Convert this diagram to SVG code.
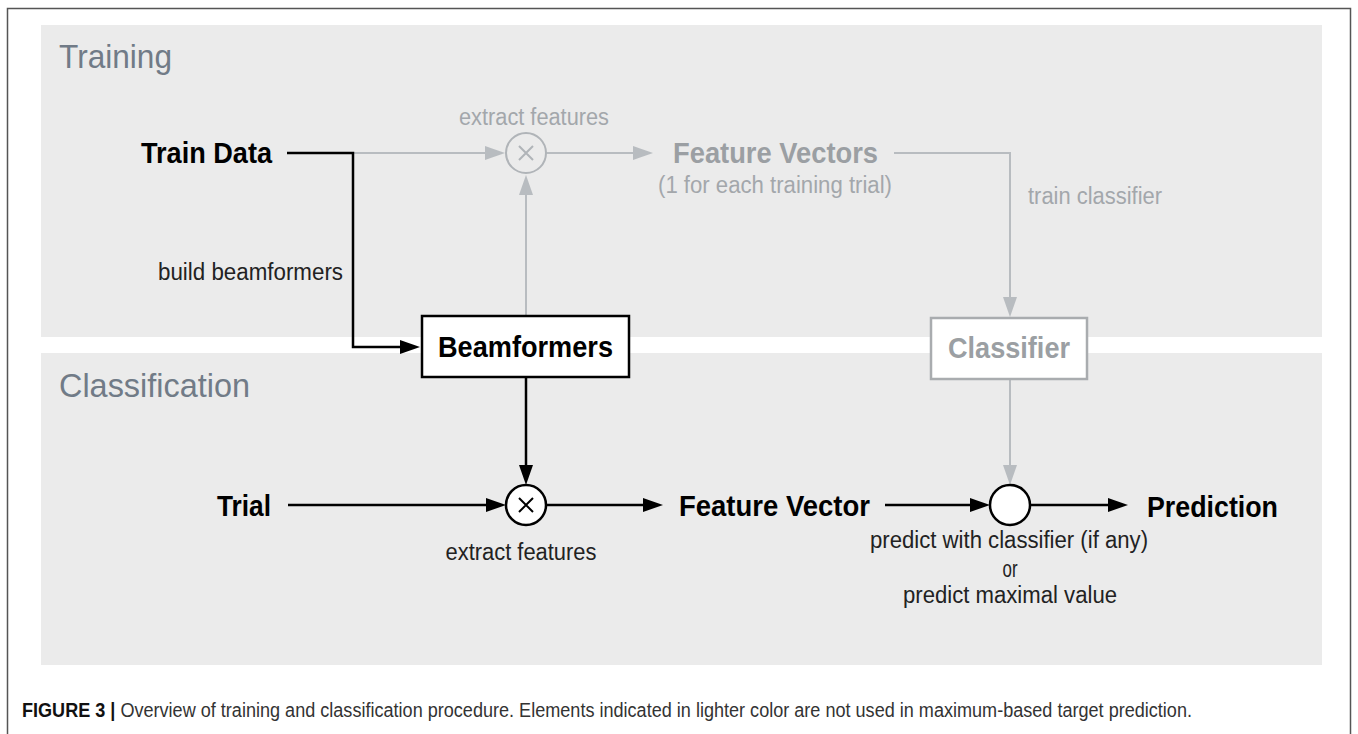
<svg xmlns="http://www.w3.org/2000/svg" width="1358" height="734" viewBox="0 0 1358 734">
<defs>
<style>
.panel{fill:#ebebeb}
.lbl{font-family:"Liberation Sans",Arial,sans-serif}
.sec{font-size:33px;fill:#717b87}
.bold{font-weight:bold;font-size:29px}
.blk{fill:#000}
.gry{fill:#9b9fa3}
.small{font-size:23px}
.blkline{fill:none;stroke:#000;stroke-width:2.5}
.gryline{fill:none;stroke:#b8bcc0;stroke-width:2}
</style>
<marker id="ab" markerUnits="userSpaceOnUse" markerWidth="20" markerHeight="14" refX="0" refY="7" orient="auto" overflow="visible">
<path d="M0,0 L20,7 L0,14 z" fill="#000"/>
</marker>
<marker id="ag" markerUnits="userSpaceOnUse" markerWidth="20" markerHeight="14" refX="0" refY="7" orient="auto" overflow="visible">
<path d="M0,0 L20,7 L0,14 z" fill="#b8bcc0"/>
</marker>
</defs>
<rect x="0" y="0" width="1358" height="734" fill="#fff"/>
<rect x="7.5" y="8.5" width="1343" height="740" fill="none" stroke="#555" stroke-width="1.5"/>
<g id="training-panel">
<rect class="panel" x="41" y="25" width="1281" height="312"/>
<text class="lbl sec" x="59" y="68" textLength="113" lengthAdjust="spacingAndGlyphs">Training</text>
</g>
<g id="classification-panel">
<rect class="panel" x="41" y="353" width="1281" height="312"/>
<text class="lbl sec" x="59" y="397" textLength="191" lengthAdjust="spacingAndGlyphs">Classification</text>
</g>
<g id="connectors">
<path class="gryline" d="M353,153 H485" marker-end="url(#ag)"/>
<path class="gryline" d="M546,153 H633" marker-end="url(#ag)"/>
<path class="gryline" d="M526,315 V195" marker-end="url(#ag)"/>
<path class="gryline" d="M894,153 H1010 V297" marker-end="url(#ag)"/>
<path class="gryline" d="M1010,379 V465" marker-end="url(#ag)"/>
<path class="blkline" d="M287,153 H353 V347 H400" marker-end="url(#ab)"/>
<path class="blkline" d="M526,377 V465" marker-end="url(#ab)"/>
<path class="blkline" d="M288,505 H486" marker-end="url(#ab)"/>
<path class="blkline" d="M546,505 H643" marker-end="url(#ab)"/>
<path class="blkline" d="M885,505 H970" marker-end="url(#ab)"/>
<path class="blkline" d="M1030,505 H1108" marker-end="url(#ab)"/>
</g>
<g id="train-data"><text class="lbl bold blk" x="141" y="163" textLength="131" lengthAdjust="spacingAndGlyphs">Train Data</text></g>
<g id="build-label"><text class="lbl small" fill="#222" x="158" y="280" textLength="185" lengthAdjust="spacingAndGlyphs">build beamformers</text></g>
<g id="extract-train">
<circle cx="526" cy="153" r="20" fill="none" stroke="#b0b4b8" stroke-width="2"/>
<path d="M519,146 L533,160 M533,146 L519,160" stroke="#b0b4b8" stroke-width="2"/>
<text class="lbl small" fill="#a3a7ab" x="534" y="125" text-anchor="middle" textLength="150" lengthAdjust="spacingAndGlyphs">extract features</text>
</g>
<g id="feature-vectors">
<text class="lbl bold gry" x="673" y="163" textLength="205" lengthAdjust="spacingAndGlyphs">Feature Vectors</text>
<text class="lbl small" fill="#a3a7ab" x="658" y="193" textLength="234" lengthAdjust="spacingAndGlyphs">(1 for each training trial)</text>
</g>
<g id="train-classifier-label"><text class="lbl small" fill="#a3a7ab" x="1028" y="204" textLength="134" lengthAdjust="spacingAndGlyphs">train classifier</text></g>
<g id="beamformers">
<rect x="422" y="316" width="207" height="61" fill="#fff" stroke="#000" stroke-width="2.5"/>
<text class="lbl bold blk" x="525.5" y="357" text-anchor="middle" textLength="175" lengthAdjust="spacingAndGlyphs">Beamformers</text>
</g>
<g id="classifier">
<rect x="931" y="318" width="156" height="61" fill="#fff" stroke="#a9acaf" stroke-width="2.5"/>
<text class="lbl bold gry" x="1009" y="358" text-anchor="middle" textLength="122" lengthAdjust="spacingAndGlyphs">Classifier</text>
</g>
<g id="trial"><text class="lbl bold blk" x="217" y="516" textLength="54" lengthAdjust="spacingAndGlyphs">Trial</text></g>
<g id="extract-class">
<circle cx="526" cy="505" r="20" fill="#fff" stroke="#000" stroke-width="2.5"/>
<path d="M519,498 L533,512 M533,498 L519,512" stroke="#000" stroke-width="2"/>
<text class="lbl small" fill="#222" x="521" y="560" text-anchor="middle" textLength="151" lengthAdjust="spacingAndGlyphs">extract features</text>
</g>
<g id="feature-vector"><text class="lbl bold blk" x="679" y="516" textLength="191" lengthAdjust="spacingAndGlyphs">Feature Vector</text></g>
<g id="predict">
<circle cx="1010" cy="505" r="20" fill="#fff" stroke="#000" stroke-width="2.5"/>
<text class="lbl small" fill="#222" x="1009" y="548" text-anchor="middle" textLength="278" lengthAdjust="spacingAndGlyphs">predict with classifier (if any)</text>
<text class="lbl small" fill="#222" x="1010" y="577" text-anchor="middle" textLength="15" lengthAdjust="spacingAndGlyphs">or</text>
<text class="lbl small" fill="#222" x="1010" y="603" text-anchor="middle" textLength="214" lengthAdjust="spacingAndGlyphs">predict maximal value</text>
</g>
<g id="prediction"><text class="lbl bold blk" x="1147" y="517" textLength="131" lengthAdjust="spacingAndGlyphs">Prediction</text></g>
<g id="caption">
<text class="lbl" font-size="20" x="22" y="717" fill="#333" textLength="1170" lengthAdjust="spacingAndGlyphs"><tspan font-weight="bold" fill="#111">FIGURE 3 | </tspan>Overview of training and classification procedure. Elements indicated in lighter color are not used in maximum-based target prediction.</text>
</g>
</svg>
